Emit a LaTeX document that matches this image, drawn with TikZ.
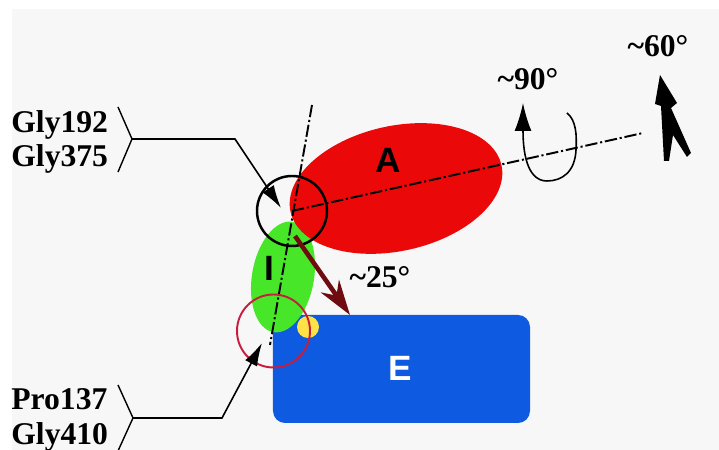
\documentclass[tikz,border=0pt]{standalone}
\usepackage{fontspec}
\setmainfont{Liberation Serif}
\newfontfamily\domfont{Liberation Sans}
\usetikzlibrary{shapes.geometric,arrows.meta,positioning}
\pgfdeclarelayer{background}
\pgfdeclarelayer{shapelayer}
\pgfdeclarelayer{edgelayer}
\pgfsetlayers{background,shapelayer,edgelayer,main}
\definecolor{panel}{RGB}{247,247,247}
\definecolor{domred}{RGB}{235,8,8}
\definecolor{domgreen}{RGB}{72,230,40}
\definecolor{domblue}{RGB}{14,90,225}
\definecolor{domyellow}{RGB}{255,226,70}
\definecolor{ringred}{RGB}{200,30,62}
\definecolor{tiltred}{RGB}{110,12,16}
\tikzstyle{none}=[inner sep=0mm]
\tikzstyle{blob}=[ellipse,inner sep=0pt,draw=none]
\tikzstyle{domA}=[blob,fill=domred,minimum width=4.32cm,minimum height=2.5cm,rotate=12.5]
\tikzstyle{domI}=[blob,fill=domgreen,minimum width=1.24cm,minimum height=2.24cm,rotate=-10]
\tikzstyle{domE}=[rectangle,rounded corners=2.4mm,fill=domblue,minimum width=5.14cm,minimum height=2.16cm,inner sep=0pt]
\tikzstyle{joint}=[circle,inner sep=0pt,fill=domyellow,minimum size=0.44cm]
\tikzstyle{ring}=[circle,inner sep=0pt,fill=none]
\tikzstyle{axis}=[line width=1.1pt,dash pattern=on 7pt off 1.6pt on 1.2pt off 1.6pt]
\tikzstyle{pointer}=[line width=0.9pt,-{Latex[length=4.6mm,width=2.7mm]}]
\tikzstyle{bracket}=[line width=0.8pt]
\tikzstyle{resname}=[inner sep=0pt,anchor=west,align=left,font=\fontsize{18}{19.5}\selectfont\bfseries]
\tikzstyle{anglab}=[inner sep=0pt,font=\fontsize{18}{20}\selectfont\bfseries]
\tikzstyle{domlab}=[inner sep=0pt,font=\domfont\fontsize{20}{22}\selectfont\bfseries]

\begin{document}
\begin{tikzpicture}[x=0.2mm,y=0.2mm]
	\useasboundingbox (0,0) rectangle (719,450);
	\begin{pgfonlayer}{background}
		\fill[white] (0,0) rectangle (719,450);
		\fill[panel] (12,0) rectangle (719,441);
	\end{pgfonlayer}
	\begin{pgfonlayer}{shapelayer}
		\node [style=domE] (E) at (401.5,81) {};
		\node [style=domI] (I) at (283,173) {};
		\node [style=joint] (J) at (308,123) {};
		\node [style=domA] (A) at (396,261.5) {};
	\end{pgfonlayer}
	\begin{pgfonlayer}{edgelayer}
		\coordinate (hinge) at (292,239);
		\coordinate (axisend) at (643,317);
		\coordinate (vtop) at (312,345);
		\coordinate (vbot) at (270,105);
		\draw[style=axis] (hinge) -- (axisend);
		\draw[style=axis] (vtop) -- (vbot);
	\end{pgfonlayer}
	% rings round the hinges
	\node [style=ring,draw=black,line width=1.4pt,minimum size=1.4cm] (hingering) at (hinge) {};
	\node [style=ring,draw=ringred,line width=1.1pt,minimum size=1.46cm] (basering) at (273.5,119) {};
	% residue labels
	\node [style=resname] (topres) at (11,308) {Gly192\\Gly375};
	\node [style=resname] (botres) at (11,30) {Pro137\\Gly410};
	\coordinate (topfork) at (132,311);
	\coordinate (topknee) at (235,311);
	\coordinate (toptip) at (281,242);
	\coordinate (botfork) at (133,32);
	\coordinate (botknee) at (222,32);
	\coordinate (bottip) at (262,107);
	\draw[style=bracket] (118,343) -- (topfork) -- (118,278);
	\draw[style=bracket] (118,65) -- (botfork) -- (118,-1);
	\draw[style=pointer] (topfork) -- (topknee) -- (toptip);
	\draw[style=pointer] (botfork) -- (botknee) -- (bottip);
	% tilt of I
	\coordinate (tiltstart) at (295,214);
	\coordinate (tilttip) at (350,135);
	\draw[line width=2.6pt,draw=tiltred,-{Stealth[length=7mm,width=4.4mm]}] (tiltstart) -- (tilttip);
	% spin about the long axis
	\coordinate (spinstart) at (567,337);
	\coordinate (spintip) at (523,347);
	\draw[line width=0.9pt,-{Latex[length=5.6mm,width=3.4mm]}] (spinstart) .. controls (576,330) and (577,315) .. (576,300) .. controls (575,278) and (562,269) .. (547,269) .. controls (530,269) and (523,290) .. (spintip);
	% swing dart
	\fill[black] (660,375) -- (677,347) -- (671,342) -- (691,297) -- (687,293) -- (673,315) -- (669,289) -- (664,289) -- (661,344) -- (655,346) -- cycle;
	% angle and domain labels
	\node [style=anglab] (ninety) at (528,371) {\textasciitilde90\textdegree};
	\node [style=anglab] (sixty) at (658,404) {\textasciitilde60\textdegree};
	\node [style=anglab] (twentyfive) at (380,173) {\textasciitilde25\textdegree};
	\node [style=domlab] (Alab) at (388,290) {A};
	\node [style=domlab] (Ilab) at (269,182) {I};
	\node [style=domlab,text=white] (Elab) at (400,82) {E};
\end{tikzpicture}
\end{document}
